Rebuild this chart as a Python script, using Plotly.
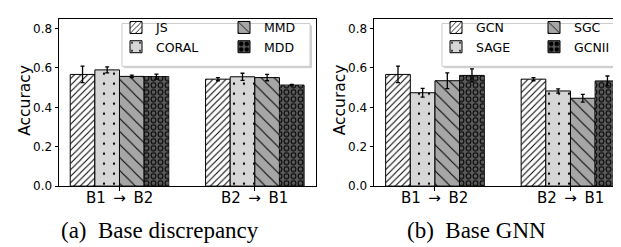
import plotly.graph_objects as go

W, H = 621, 247

categories = ["B1\u2002→\u2002B2", "B2\u2002→\u2002B1"]

disc_names = ["JS", "CORAL", "MMD", "MDD"]
js_acc = [0.567, 0.543]
js_err = [0.042, 0.008]
coral_acc = [0.590, 0.555]
coral_err = [0.015, 0.018]
mmd_acc = [0.557, 0.551]
mmd_err = [0.006, 0.016]
mdd_acc = [0.556, 0.513]
mdd_err = [0.013, 0.003]

gnn_names = ["GCN", "SAGE", "SGC", "GCNII"]
gcn_acc = [0.567, 0.543]
gcn_err = [0.042, 0.008]
sage_acc = [0.474, 0.483]
sage_err = [0.022, 0.011]
sgc_acc = [0.535, 0.446]
sgc_err = [0.040, 0.020]
gcnii_acc = [0.562, 0.534]
gcnii_err = [0.033, 0.025]

y_ticks = [0.0, 0.2, 0.4, 0.6, 0.8]
captions = ["(a)\u2002Base discrepancy", "(b)\u2002Base GNN"]
y_title = "Accuracy"

# styling
FILL = ["#ffffff", "#d6d6d6", "#a6a6a6", "#5a5a5a"]
SHAPE = ["/", ".", "\\", "."]
PSIZE = [4.6, 10, 9.2, 7]
PSOL = [0.22, 0.04, 0.11, 0.54]
BW = 0.182
FONT = "DejaVu Sans"


def px(x):
    return x / W


def py(y):
    return 1 - y / H


fig = go.Figure()


def add_panel(xa, ya, names, accs, errs, legs):
    for i, (nm, acc, er) in enumerate(zip(names, accs, errs)):
        off = -2 * BW + i * BW
        last = (i == 3)
        fig.add_trace(go.Bar(
            x=categories, y=acc, name=nm, xaxis=xa, yaxis=ya,
            offset=off, width=BW,
            legend=legs[0] if i < 2 else legs[1],
            marker=dict(color=FILL[i], line=dict(color="black", width=1),
                        pattern=dict(shape=SHAPE[i], fgcolor="black", bgcolor=FILL[i],
                                     size=PSIZE[i], solidity=PSOL[i], fillmode="replace")),
            error_y=None if last else dict(type="data", array=er, color="black",
                                           thickness=1.3, width=2),
            showlegend=True,
        ))
        if last:
            # inner part of the ring hatch
            fig.add_trace(go.Bar(
                x=categories, y=acc, name=nm, xaxis=xa, yaxis=ya,
                offset=off, width=BW, showlegend=False,
                marker=dict(color="rgba(0,0,0,0)", line=dict(width=0),
                            pattern=dict(shape=".", fgcolor=FILL[i], bgcolor="rgba(0,0,0,0)",
                                         size=PSIZE[i], solidity=0.23, fillmode="replace")),
                error_y=dict(type="data", array=er, color="black", thickness=1.3, width=2),
            ))


add_panel("x", "y", disc_names, [js_acc, coral_acc, mmd_acc, mdd_acc],
          [js_err, coral_err, mmd_err, mdd_err], ["legend", "legend2"])
add_panel("x2", "y2", gnn_names, [gcn_acc, sage_acc, sgc_acc, gcnii_acc],
          [gcn_err, sage_err, sgc_err, gcnii_err], ["legend3", "legend4"])

ydom = [py(183.3), py(11)]
axis_common = dict(showline=True, linecolor="black", linewidth=1, showgrid=False,
                   zeroline=False, ticks="outside", ticklen=3.5, tickwidth=1,
                   tickcolor="black")
xfont = dict(family=FONT, size=15, color="black")
yfont = dict(family=FONT, size=12, color="black")

fig.update_layout(
    width=W, height=H, margin=dict(l=0, r=0, t=0, b=0, pad=0),
    paper_bgcolor="white", plot_bgcolor="rgba(0,0,0,0)",
    barmode="overlay",
    xaxis=dict(domain=[px(51), px(308)], range=[-0.447, 1.452], type="category",
               anchor="y", mirror=True, showticklabels=False, **axis_common),
    yaxis=dict(domain=ydom, range=[0, 0.85], anchor="x", mirror=True,
               tickvals=y_ticks, tickformat=".1f", tickfont=yfont, **axis_common),
    xaxis2=dict(domain=[px(366), 1], range=[-0.45, 1.432], type="category",
                anchor="y2", mirror=True, showticklabels=False, **axis_common),
    yaxis2=dict(domain=ydom, range=[0, 0.85], anchor="x2", mirror=False,
                tickvals=y_ticks, tickformat=".1f", tickfont=yfont, **axis_common),
)

leg_common = dict(orientation="v", bgcolor="rgba(0,0,0,0)", borderwidth=0,
                  font=dict(family=FONT, size=12.5, color="black"),
                  xanchor="left", yanchor="top", itemwidth=30, tracegroupgap=0)
leg_top = py(5)
fig.update_layout(
    legend=dict(x=px(108), y=leg_top, **leg_common),
    legend2=dict(x=px(216), y=leg_top, **leg_common),
    legend3=dict(x=px(428), y=leg_top, **leg_common),
    legend4=dict(x=px(526), y=leg_top, **leg_common),
)

# legend frames (with soft shadow)
shapes = []
for (x0, x1) in [(114, 302), (434, 618)]:
    shapes.append(dict(type="rect", xref="paper", yref="paper", layer="above",
                       x0=px(x0 + 2), x1=px(min(x1 + 2, W)), y0=py(62), y1=py(18),
                       fillcolor="rgba(0,0,0,0.18)", line=dict(width=0)))
    shapes.append(dict(type="rect", xref="paper", yref="paper", layer="above",
                       x0=px(x0), x1=px(x1), y0=py(60), y1=py(16),
                       fillcolor="white", line=dict(color="#cccccc", width=1)))
fig.update_layout(shapes=shapes)

annotations = [
    dict(text=y_title, x=px(17.5), y=py(95), xref="paper", yref="paper", showarrow=False,
         textangle=-90, font=dict(family=FONT, size=15.5, color="black"),
         xanchor="center", yanchor="middle"),
    dict(text=y_title, x=px(332), y=py(95), xref="paper", yref="paper", showarrow=False,
         textangle=-90, font=dict(family=FONT, size=15.5, color="black"),
         xanchor="center", yanchor="middle"),
    dict(text=captions[0], x=px(152), y=py(229), xref="paper", yref="paper", showarrow=False,
         font=dict(family="Liberation Serif", size=23, color="black"),
         xanchor="center", yanchor="middle"),
    dict(text=captions[1], x=px(468), y=py(229), xref="paper", yref="paper", showarrow=False,
         font=dict(family="Liberation Serif", size=23, color="black"),
         xanchor="center", yanchor="middle"),
]
# category tick labels placed at the axis category positions
for xr in ["x", "x2"]:
    for c in categories:
        annotations.append(dict(text=c, x=c, xref=xr, y=py(195.5), yref="paper",
                                showarrow=False, font=xfont,
                                xanchor="center", yanchor="middle"))
fig.update_layout(annotations=annotations)

fig.write_html("out.html")
